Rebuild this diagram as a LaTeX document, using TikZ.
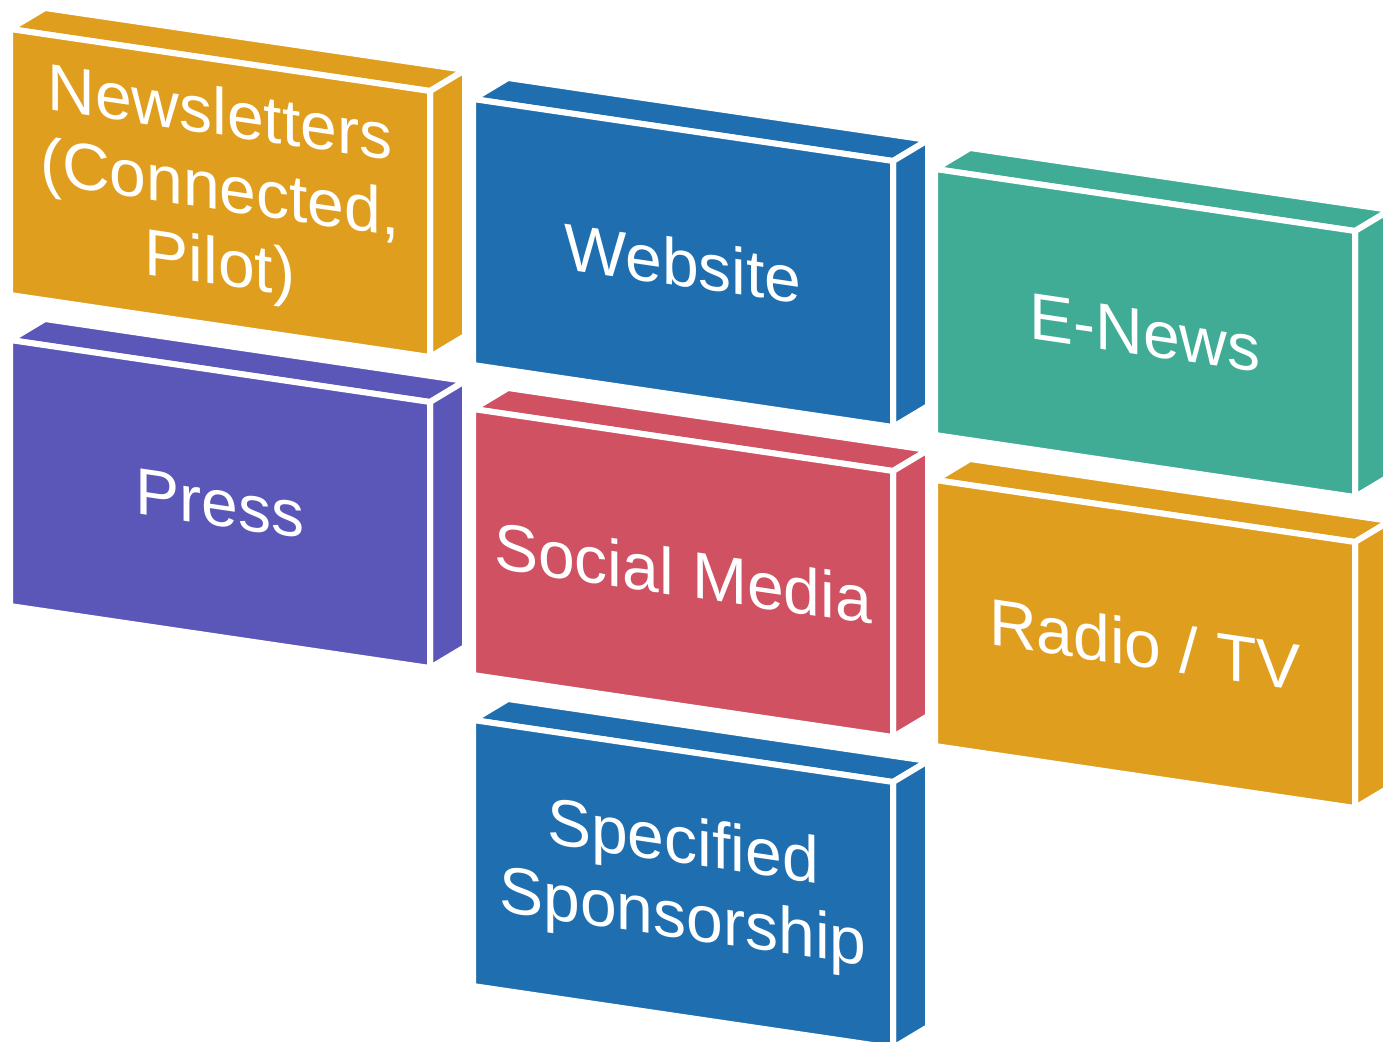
\documentclass[tikz,border=0pt]{standalone}
\usepackage{fontspec}
\setmainfont{Liberation Sans}
\definecolor{cOrange}{RGB}{224,158,31}
\definecolor{cBlue}{RGB}{31,111,176}
\definecolor{cTeal}{RGB}{64,172,150}
\definecolor{cPurple}{RGB}{91,87,185}
\definecolor{cRed}{RGB}{207,81,98}
\tikzset{
  face/.style={draw=white, line width=6pt, line join=miter},
  lbl/.style={text=white, font=\fontsize{66}{75}\selectfont, align=center, yslant=-0.147, inner sep=0pt},
}
\newcommand\mkblock[5]{%
  \path[fill=#3, face] (#1,#2) -- ++(35,-21) -- ++(420,62) -- ++(-35,21) -- cycle;
  \path[fill=#3, face] ({#1+420},{#2+62}) -- ++(35,-21) -- ++(0,266) -- ++(-35,21) -- cycle;
  \path[fill=#3, face] (#1,#2) -- ++(420,62) -- ++(0,266) -- ++(-420,-62) -- cycle;
  \node[lbl] (#4) at ({#1+210},{#2+164}) {#5};
}
\begin{document}
\begin{tikzpicture}[x=1pt,y=-1pt]
\useasboundingbox (0,0) rectangle (1383,1041);
\clip (0,0) rectangle (1383,1041);
\mkblock{10}{29}{cOrange}{news}{Newsletters\\(Connected,\\Pilot)}
\mkblock{10}{340}{cPurple}{press}{Press}
\mkblock{473}{99}{cBlue}{web}{Website}
\mkblock{473}{409}{cRed}{social}{Social Media}
\mkblock{473}{720}{cBlue}{sponsor}{Specified\\Sponsorship}
\mkblock{935}{169}{cTeal}{enews}{E-News}
\mkblock{935}{480}{cOrange}{radio}{Radio / TV}
\end{tikzpicture}
\end{document}
